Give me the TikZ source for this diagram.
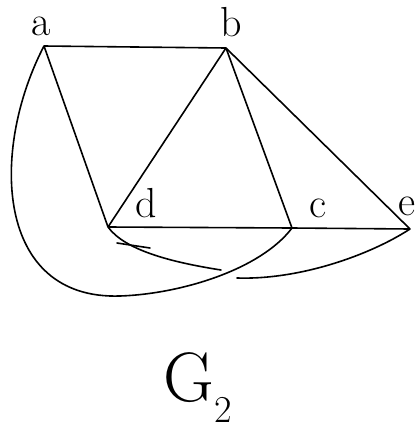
\documentclass[tikz,border=0pt]{standalone}
\begin{document}
\begin{tikzpicture}[x=1pt,y=-1pt,
  vtx/.style={inner sep=0pt,minimum size=0pt},
  lbl/.style={font=\fontsize{42}{42}\selectfont,inner sep=0pt,anchor=base},
  edge/.style={line width=1.6pt,line cap=round,line join=round}]
\useasboundingbox (0,0) rectangle (420,432);
\node[vtx] (a) at (44,46) {};
\node[vtx] (b) at (226,48) {};
\node[vtx] (d) at (108,227) {};
\node[vtx] (c) at (292,228) {};
\node[vtx] (e) at (410,229) {};
\coordinate (m1) at (221,270);
\coordinate (m2) at (237,278);
\coordinate (t1) at (117,243);
\coordinate (t2) at (150,248);
\node[lbl] (la) at (41,35) {a};
\node[lbl] (lb) at (231,36) {b};
\node[lbl] (ld) at (146,217) {d};
\node[lbl] (lc) at (318,217) {c};
\node[lbl] (le) at (407,215) {e};
\node[inner sep=0pt,font=\fontsize{70}{70}\selectfont] (g) at (198,388) {G\raisebox{-0.3em}{\fontsize{38}{38}\selectfont 2}};
\draw[edge] (a) -- (b);
\draw[edge] (a) -- (d);
\draw[edge] (b) -- (d);
\draw[edge] (b) -- (c);
\draw[edge] (b) -- (e);
\draw[edge] (d) -- (c);
\draw[edge] (c) -- (e);
\draw[edge] (a) .. controls (-10,150) and (-5,300) .. (120,296)
  .. controls (180,294) and (260,270) .. (c);
\draw[edge] (d) .. controls (125,250) and (170,262) .. (m1);
\draw[edge] (m2) .. controls (300,280) and (370,255) .. (e);
\draw[edge] (t1) -- (t2);
\end{tikzpicture}
\end{document}
